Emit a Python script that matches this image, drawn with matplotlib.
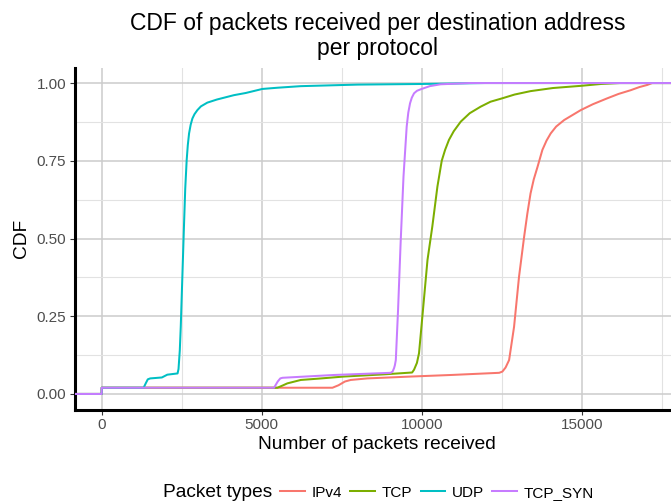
import matplotlib
matplotlib.use("Agg")
import matplotlib.pyplot as plt
from matplotlib.ticker import FixedLocator, MultipleLocator

plt.rcParams['font.family'] = ['Liberation Sans', 'DejaVu Sans']

# ECDF knots per packet type: packets received -> cumulative share of addresses
ipv4_x = [0, 0, 7210, 7400, 7600, 7780, 8300, 9660, 10910, 12420, 12520, 12620, 12730,
          12885, 13040, 13200, 13300, 13400, 13500, 13620, 13770, 13900, 14030, 14200, 14450,
          14970, 15350, 15800, 16150, 16530, 16800, 17050, 17200]
ipv4_y = [0, 0.02, 0.02, 0.028, 0.040, 0.045, 0.050, 0.056, 0.061, 0.068, 0.072, 0.085, 0.109,
          0.216, 0.377, 0.506, 0.580, 0.645, 0.690, 0.731, 0.785, 0.815, 0.838, 0.860, 0.881,
          0.913, 0.932, 0.951, 0.965, 0.977, 0.987, 0.994, 1.0]

tcp_x = [0, 0, 5490, 5650, 5800, 6220, 6740, 7570, 8820, 9700, 9760, 9850, 9915, 10020,
         10180, 10330, 10490, 10625, 10730, 10850, 11000, 11220, 11500, 11840, 12150,
         12520, 12900, 13400, 14100, 14970, 15600, 16200]
tcp_y = [0, 0.02, 0.02, 0.027, 0.034, 0.045, 0.049, 0.056, 0.063, 0.069, 0.078, 0.10, 0.131,
         0.249, 0.431, 0.538, 0.667, 0.75, 0.785, 0.817, 0.845, 0.876, 0.903, 0.924, 0.940,
         0.951, 0.963, 0.974, 0.984, 0.991, 0.997, 1.0]

udp_x = [0, 0, 1310, 1380, 1440, 1516, 1880, 2050, 2370, 2400, 2440, 2470, 2570, 2610,
         2655, 2690, 2730, 2780, 2834, 2900, 2990, 3100, 3300, 3600, 4130, 4500, 5020,
         5500, 6220, 8000, 10000, 12000]
udp_y = [0, 0.02, 0.02, 0.035, 0.047, 0.050, 0.053, 0.062, 0.066, 0.080, 0.14, 0.216, 0.538,
         0.66, 0.752, 0.80, 0.838, 0.866, 0.886, 0.900, 0.913, 0.925, 0.937, 0.947, 0.961,
         0.968, 0.981, 0.985, 0.990, 0.995, 0.997, 1.0]

syn_x = [0, 0, 5385, 5500, 5580, 5650, 7250, 9030, 9090, 9135, 9160, 9190, 9260, 9340,
         9430, 9530, 9580, 9635, 9690, 9760, 9850, 9970, 10250, 10590, 11500]
syn_y = [0, 0.02, 0.02, 0.040, 0.050, 0.052, 0.061, 0.068, 0.072, 0.083, 0.092, 0.109, 0.27,
         0.485, 0.699, 0.86, 0.905, 0.935, 0.953, 0.967, 0.975, 0.980, 0.990, 0.996, 1.0]

labels = ["IPv4", "TCP", "UDP", "TCP_SYN"]
colors = ["#F8766D", "#7CAE00", "#00BFC4", "#C77CFF"]
xs = [ipv4_x, tcp_x, udp_x, syn_x]
ys = [ipv4_y, tcp_y, udp_y, syn_y]

W, H = 671, 501
fig = plt.figure(figsize=(W / 100, H / 100), dpi=100)
ax = fig.add_axes([74.5 / W, 1 - 409.5 / H, (680 - 74.5) / W, (409.5 - 67.5) / H])

xlo, xhi = -850, 18070
ax.set_xlim(xlo, xhi)
ax.set_ylim(-0.05, 1.05)

handles = []
for lab, col, x, y in zip(labels, colors, xs, ys):
    # ecdf runs from -Inf to +Inf
    ln, = ax.plot([xlo] + x + [xhi], [0] + y + [1], color=col, lw=1.45,
                  solid_joinstyle='round', label=lab, zorder=3)
    handles.append(ln)

ax.xaxis.set_major_locator(FixedLocator([0, 5000, 10000, 15000]))
ax.xaxis.set_minor_locator(MultipleLocator(2500))
ax.yaxis.set_major_locator(FixedLocator([0, 0.25, 0.5, 0.75, 1.0]))
ax.yaxis.set_minor_locator(MultipleLocator(0.125))
ax.set_yticklabels(["0.00", "0.25", "0.50", "0.75", "1.00"])

ax.grid(which='major', color='#cccccc', lw=1.1)
ax.grid(which='minor', color='#e2e2e2', lw=0.8)
ax.set_axisbelow(True)

for s in ['top', 'right']:
    ax.spines[s].set_visible(False)
for s in ['left', 'bottom']:
    ax.spines[s].set_color('black')
    ax.spines[s].set_linewidth(2.2)

ax.tick_params(which='major', length=3.5, width=0.8, color='#333333',
               labelcolor='#4D4D4D', labelsize=11, pad=2.5)
ax.tick_params(which='minor', length=0)

ax.set_xlabel("Number of packets received", fontsize=13.75, labelpad=3)
ax.set_ylabel("CDF", fontsize=13.75, labelpad=5)

fig.text((74.5 + 680) / 2 / W, 1 - 12 / H,
         "CDF of packets received per destination address\nper protocol",
         ha='center', va='top', fontsize=16.5, linespacing=1.1)

fig.text(162.7 / W, 1 - 492.7 / H, "Packet types", ha='left', va='center', fontsize=13.75)
fig.legend(handles, labels, ncol=4, loc='center', bbox_to_anchor=(437 / W, 1 - 492.7 / H),
           frameon=False, fontsize=11, handlelength=1.6, handletextpad=0.45,
           columnspacing=0.55, borderaxespad=0, borderpad=0)

fig.savefig("out.png", dpi=100)
